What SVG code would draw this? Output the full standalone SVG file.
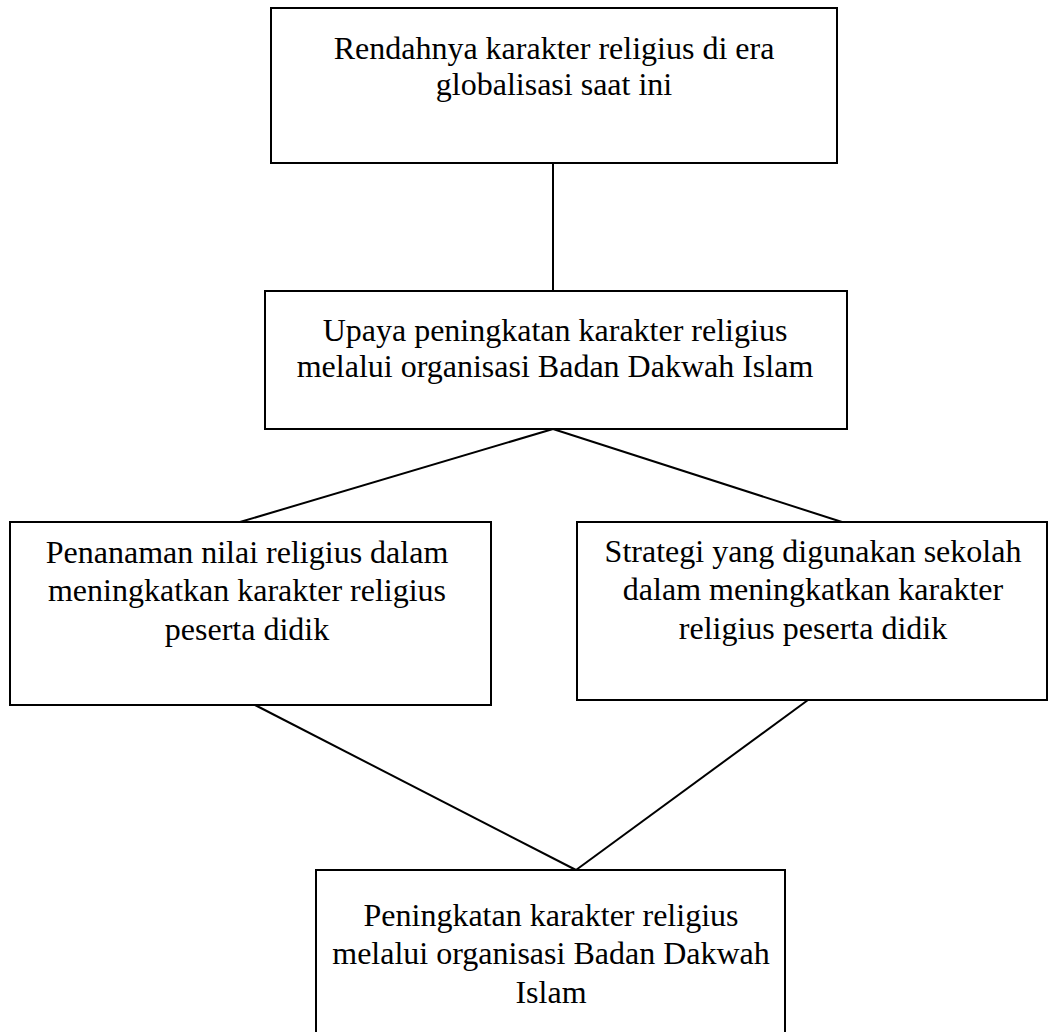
<svg xmlns="http://www.w3.org/2000/svg" width="1058" height="1032" viewBox="0 0 1058 1032">
<style>
.box{fill:#fff;stroke:#000;stroke-width:2}
.t{font-family:"Liberation Serif","Times New Roman",serif;font-size:32px;fill:#000;text-anchor:middle}
.c{stroke:#000;stroke-width:2;fill:none}
</style>
<rect width="1058" height="1032" fill="#fff"/>
<g id="connectors">
<line class="c" x1="553" y1="163" x2="553" y2="291"/>
<line class="c" x1="553" y1="429" x2="240" y2="522"/>
<line class="c" x1="553" y1="429" x2="842" y2="522"/>
<line class="c" x1="255" y1="705" x2="576" y2="870"/>
<line class="c" x1="808" y1="700" x2="576" y2="870"/>
</g>
<g id="n1">
<rect class="box" x="271" y="8" width="566" height="155"/>
<text class="t" x="554" y="59">Rendahnya karakter religius di era</text>
<text class="t" x="554" y="95">globalisasi saat ini</text>
</g>
<g id="n2">
<rect class="box" x="265" y="291" width="582" height="138"/>
<text class="t" x="555" y="341">Upaya peningkatan karakter religius</text>
<text class="t" x="555" y="377">melalui organisasi Badan Dakwah Islam</text>
</g>
<g id="n3">
<rect class="box" x="10" y="522" width="481" height="183"/>
<text class="t" x="247" y="563">Penanaman nilai religius dalam</text>
<text class="t" x="247" y="601">meningkatkan karakter religius</text>
<text class="t" x="247" y="640">peserta didik</text>
</g>
<g id="n4">
<rect class="box" x="577" y="522" width="470" height="178"/>
<text class="t" x="813" y="562">Strategi yang digunakan sekolah</text>
<text class="t" x="813" y="600">dalam meningkatkan karakter</text>
<text class="t" x="813" y="639">religius peserta didik</text>
</g>
<g id="n5">
<rect class="box" x="316" y="870" width="469" height="170"/>
<text class="t" x="551" y="926">Peningkatan karakter religius</text>
<text class="t" x="551" y="964">melalui organisasi Badan Dakwah</text>
<text class="t" x="551" y="1003">Islam</text>
</g>
</svg>
